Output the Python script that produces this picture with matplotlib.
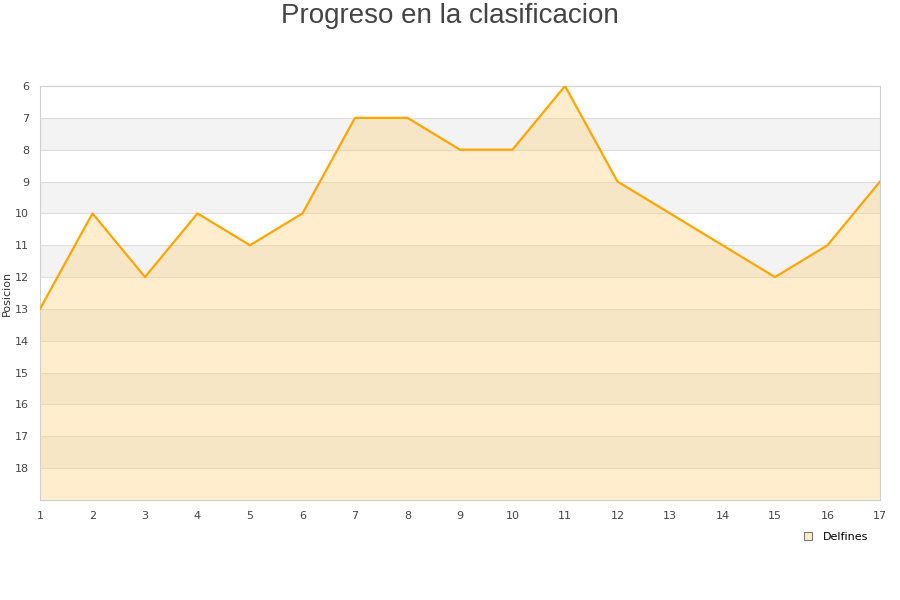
import matplotlib
matplotlib.use("Agg")
import matplotlib.pyplot as plt
from matplotlib.lines import Line2D

jornadas = list(range(1, 18))
posicion = [13, 10, 12, 10, 11, 10, 7, 7, 8, 8, 6, 9, 10, 11, 12, 11, 9]
yticks = list(range(6, 19))

fig = plt.figure(figsize=(9, 6), dpi=100)
ax = fig.add_axes([40 / 900, 1 - 500 / 600, 840 / 900, 414 / 600])

# bandas alternas
for y0 in range(7, 19, 2):
    ax.axhspan(y0, y0 + 1, color='#f3f3f3', zorder=0, lw=0)
for y in yticks:
    ax.axhline(y, color='#dddddd', lw=0.8, zorder=1)

ax.fill_between(jornadas, posicion, 19, color='#ffd27f', alpha=0.38, lw=0, zorder=2)
ax.plot(jornadas, posicion, color='#ffa500', lw=1.6, zorder=3)

ax.set_xlim(1, 17)
ax.set_ylim(19, 6)
ax.set_yticks(yticks)
ax.set_xticks(jornadas)
ax.tick_params(length=0, labelsize=8, colors='#444444', pad=8)
for s in ax.spines.values():
    s.set_color('#d0d0d0')
ax.set_ylabel('Posicion', fontsize=8, color='#333333', labelpad=2)

fig.text(0.5, 1 - 16 / 600, 'Progreso en la clasificacion', ha='center', va='center',
         fontsize=20, color='#444444', family='Liberation Sans')

h = Line2D([], [], marker='s', ls='none', markersize=6,
           markerfacecolor='#feedc9', markeredgecolor='#777777', markeredgewidth=0.8)
fig.legend([h], ['Delfines'], loc='center', bbox_to_anchor=(0.925, 0.105),
           frameon=False, fontsize=8, handletextpad=0.3)

fig.savefig('out.png')
